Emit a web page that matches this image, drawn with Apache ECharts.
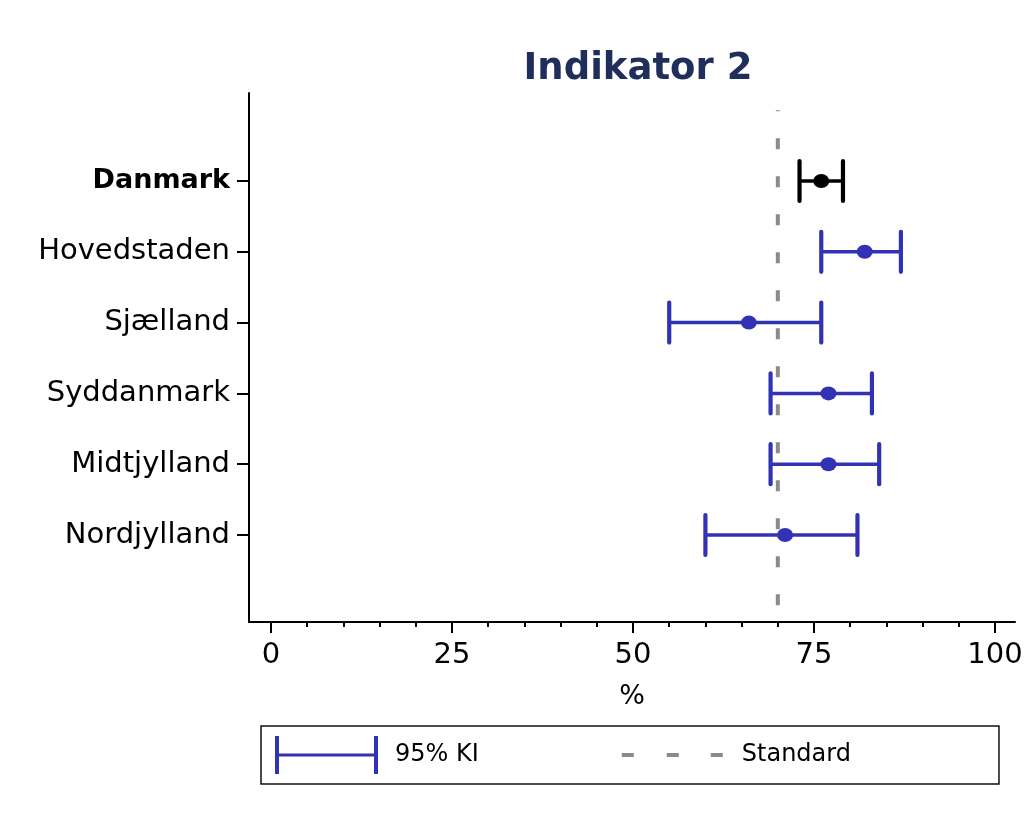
<!DOCTYPE html>
<html>
<head>
<meta charset="utf-8">
<title>Indikator 2</title>
<script src="https://cdn.jsdelivr.net/npm/echarts@6/dist/echarts.min.js"></script>
<style>
  html, body { margin: 0; padding: 0; background: #fff; }
  #chart { width: 1036px; height: 817px; }
</style>
</head>
<body>
<div id="chart"></div>
<script>
// Regions and national total, top to bottom
const categories = ['Danmark', 'Hovedstaden', 'Sjælland', 'Syddanmark', 'Midtjylland', 'Nordjylland'];
// Point estimates (%) and 95% confidence limits
const estimates = [76, 82, 66, 77, 77, 71];
const lowerCI = [73, 76, 55, 69, 69, 60];
const upperCI = [79, 87, 76, 83, 84, 81];
// Target level (%)
const standardLevel = 70;
// Axis ticks
const xMajorTicks = [0, 25, 50, 75, 100];
const xMinorTicks = [5, 10, 15, 20, 30, 35, 40, 45, 55, 60, 65, 70, 80, 85, 90, 95];

const FONT = 'DejaVu Sans';
const BLUE = '#3232b4';
const GREY = '#8a8a8a';

// rows: category position 1..n on a numeric y axis
const rowPos = categories.map((c, i) => i + 1);
const nationalRows = [[rowPos[0], lowerCI[0], upperCI[0]]];
const regionRows = rowPos.slice(1).map((p, i) => [p, lowerCI[i + 1], upperCI[i + 1]]);
const nationalPoint = [[estimates[0], rowPos[0]]];
const regionPoints = rowPos.slice(1).map((p, i) => [estimates[i + 1], p]);

// horizontal whisker with end caps, from lower to upper limit
function errorBar(color) {
  return function (params, api) {
    const y = api.value(0);
    const a = api.coord([api.value(1), y]);
    const b = api.coord([api.value(2), y]);
    const h = 20;
    return {
      type: 'group',
      children: [
        { type: 'line', shape: { x1: a[0], y1: a[1], x2: b[0], y2: b[1] },
          style: { stroke: color, lineWidth: 3.5 } },
        { type: 'line', shape: { x1: a[0], y1: a[1] - h, x2: a[0], y2: a[1] + h },
          style: { stroke: color, lineWidth: 4.2, lineCap: 'round' } },
        { type: 'line', shape: { x1: b[0], y1: b[1] - h, x2: b[0], y2: b[1] + h },
          style: { stroke: color, lineWidth: 4.2, lineCap: 'round' } }
      ]
    };
  };
}

const yMin = -0.243, yMax = 7.229;

const option = {
  backgroundColor: '#fff',
  animation: false,
  title: {
    text: 'Indikator 2',
    left: 633,
    top: 46,
    textAlign: 'center',
    textStyle: { fontFamily: FONT, fontSize: 37, fontWeight: 'bold', color: '#1f2e5b' }
  },
  grid: { left: 249, right: 21, top: 93, bottom: 195, containLabel: false },
  legend: {
    left: 261,
    top: 726,
    orient: 'horizontal',
    data: [
      { name: '95% KI',
        icon: 'path://M0,0h4v38h-4ZM0,17.5h103v3h-103ZM99,0h4v38h-4Z' },
      { name: 'Standard',
        icon: 'path://M0,0h0.01v0.01h-0.01ZM0,17h12v4h-12ZM45,17h12v4h-12ZM89,17h12v4h-12ZM102.99,37.99h0.01v0.01h-0.01Z' }
    ],
    itemWidth: 103,
    itemHeight: 38,
    itemGap: 143,
    padding: [10, 148, 10, 14],
    borderColor: '#111',
    borderWidth: 1.5,
    borderRadius: 0,
    itemStyle: { borderWidth: 0 },
    textStyle: { fontFamily: FONT, fontSize: 24, color: '#000', padding: [0, 0, 0, 12] },
    selectedMode: false
  },
  xAxis: [
    {
      type: 'value',
      min: -3.039,
      max: 102.76,
      name: '%',
      nameLocation: 'middle',
      nameGap: 61,
      nameTextStyle: { fontFamily: FONT, fontSize: 27, color: '#000' },
      axisLine: { onZero: false, lineStyle: { color: '#000', width: 2 } },
      axisTick: { customValues: xMajorTicks, length: 11, lineStyle: { color: '#000', width: 2 } },
      axisLabel: { customValues: xMajorTicks, margin: 19, fontFamily: FONT, fontSize: 29, color: '#000' },
      splitLine: { show: false }
    },
    {
      type: 'value',
      position: 'bottom',
      min: -3.039,
      max: 102.76,
      axisLine: { show: false, onZero: false },
      axisTick: { customValues: xMinorTicks, length: 5, lineStyle: { color: '#000', width: 2 } },
      axisLabel: { show: false },
      splitLine: { show: false }
    }
  ],
  yAxis: {
    type: 'value',
    inverse: true,
    min: yMin,
    max: yMax,
    axisLine: { show: true, onZero: false, lineStyle: { color: '#000', width: 2 } },
    axisTick: { show: true, customValues: rowPos, length: 12, lineStyle: { color: '#000', width: 2 } },
    axisLabel: {
      customValues: rowPos,
      margin: 19,
      fontFamily: FONT,
      fontSize: 29,
      color: '#000',
      formatter: function (v) {
        const i = Math.round(v) - 1;
        return i === 0 ? '{b|' + categories[i] + '}' : categories[i];
      },
      rich: { b: { fontFamily: FONT, fontSize: 27, fontWeight: 'bold', color: '#000' } }
    },
    splitLine: { show: false }
  },
  series: [
    {
      name: 'Standard',
      type: 'line',
      data: [[standardLevel, 0], [standardLevel, yMax]],
      symbol: 'none',
      color: GREY,
      itemStyle: { color: GREY },
      lineStyle: { color: GREY, width: 4, type: [11, 27], dashOffset: 10, cap: 'butt' },
      z: 1,
      silent: true
    },
    {
      name: 'Danmark KI',
      type: 'custom',
      renderItem: errorBar('#000'),
      data: nationalRows,
      encode: { x: [1, 2], y: 0 },
      color: '#000',
      z: 3
    },
    {
      name: '95% KI',
      type: 'custom',
      renderItem: errorBar(BLUE),
      data: regionRows,
      encode: { x: [1, 2], y: 0 },
      color: BLUE,
      itemStyle: { color: BLUE },
      z: 3
    },
    {
      name: 'Danmark',
      type: 'scatter',
      data: nationalPoint,
      symbol: 'circle',
      symbolSize: [16, 14],
      itemStyle: { color: '#000', opacity: 1 },
      z: 4
    },
    {
      name: 'Estimat',
      type: 'scatter',
      data: regionPoints,
      symbol: 'circle',
      symbolSize: [16, 14],
      itemStyle: { color: BLUE, opacity: 1 },
      z: 4
    }
  ]
};

const chart = echarts.init(document.getElementById('chart'), null, { renderer: 'canvas' });
chart.setOption(option);
</script>
</body>
</html>
